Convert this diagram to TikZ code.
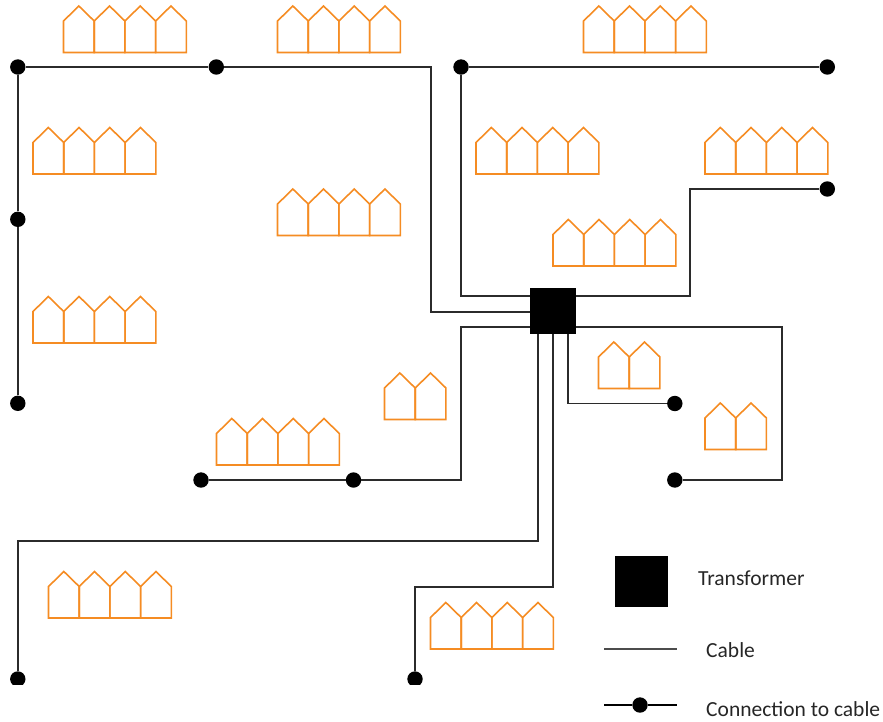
\documentclass[tikz,border=0pt]{standalone}
\usepackage{fontspec}
\setmainfont{Carlito}
\definecolor{houseor}{HTML}{F58C23}
\definecolor{cablec}{HTML}{2B2B2B}
\tikzset{
  cable/.style={draw=cablec,line width=1.7pt,line join=miter},
  dotn/.style={circle,fill=black,draw=none,minimum size=15.4pt,inner sep=0pt},
  xfmr/.style={rectangle,fill=black,draw=none,inner sep=0pt},
  lab/.style={anchor=base west,inner sep=0pt,font=\fontsize{21.5}{24}\selectfont,text=black!85},
  house/.style={draw=houseor,line width=1.6pt,line join=miter}
}
% #1 number of houses, #2 left x, #3 bottom y
\newcommand{\houserow}[3]{%
  \begin{scope}[shift={(#2,#3)}]
    \foreach \i in {1,...,#1}{%
      \draw[house] ({(\i-1)*30.7},0) -- ({(\i-1)*30.7},-31.5) -- ({(\i-1)*30.7+15.35},-46.5)
        -- ({\i*30.7},-31.5) -- ({\i*30.7},0) -- cycle;
    }
  \end{scope}}
\begin{document}
\begin{tikzpicture}[x=1pt,y=-1pt]
\useasboundingbox (0,0) rectangle (883,721);
% houses
\houserow{4}{63.5}{52.5}
\houserow{4}{277.5}{52.5}
\houserow{4}{583.5}{52.5}
\houserow{4}{33}{174}
\houserow{4}{476}{174}
\houserow{4}{705}{174}
\houserow{4}{277.5}{235.5}
\houserow{4}{553}{266}
\houserow{4}{33}{343}
\houserow{4}{216.5}{465}
\houserow{4}{48.5}{618}
\houserow{4}{430.5}{649}
\houserow{2}{598.5}{388.5}
\houserow{2}{705}{449.5}
\houserow{2}{384.5}{419.5}
% nodes
\node[xfmr,minimum width=45.5pt,minimum height=45.5pt] (T) at (552.8,311.2) {};
\node[dotn] (a) at (17.8,67) {};
\node[dotn] (b) at (216.3,67) {};
\node[dotn] (c) at (17.8,219.3) {};
\node[dotn] (d) at (17.8,403.3) {};
\node[dotn] (e) at (461,67) {};
\node[dotn] (f) at (827.3,67) {};
\node[dotn] (g) at (827.3,189) {};
\node[dotn] (h) at (201,480) {};
\node[dotn] (i) at (353.5,480) {};
\node[dotn] (j) at (674.8,403.5) {};
\node[dotn] (k) at (674.8,480) {};
\begin{scope}
  \clip (0,0) rectangle (883,684.6);
  \node[dotn] (m) at (17.8,679) {};
  \node[dotn] (n) at (415,679) {};
\end{scope}
% cables
\draw[cable] (d) -- (c) -- (a) -- (b) -- (431,67) -- (431,312) -- (T.west |- 0,312);
\draw[cable] (e) -- (f);
\draw[cable] (e) -- (461,296) -- (T.west |- 0,296);
\draw[cable] (g) -- (690,189) -- (690,296) -- (T.east |- 0,296);
\draw[cable] (h) -- (i) -- (461,480) -- (461,327) -- (T.west |- 0,327);
\draw[cable] (k) -- (782,480) -- (782,327) -- (T.east |- 0,327);
\draw[cable] (j) -- (568,403.5) -- (T.south -| 568,0);
\draw[cable] (n) -- (415,587) -- (553,587) -- (T.south -| 553,0);
\draw[cable] (m) -- (17.8,541.2) -- (537.8,541.2) -- (T.south -| 537.8,0);
% legend
\node[xfmr,minimum width=53pt,minimum height=51pt] (legT) at (641.5,581.5) {};
\node[lab] (legTt) at (698,585) {Transformer};
\coordinate (l1a) at (604,649);
\coordinate (l1b) at (677,649);
\draw[cable,draw=black!70] (l1a) -- (l1b);
\node[lab] (legC) at (706,657) {Cable};
\coordinate (l2a) at (604,705);
\coordinate (l2b) at (677,705);
\node[dotn] (legD) at (640,705) {};
\draw[cable,draw=black] (l2a) -- (legD) -- (l2b);
\node[lab] (legDt) at (706,716.3) {Connection to cable};
\end{tikzpicture}
\end{document}
